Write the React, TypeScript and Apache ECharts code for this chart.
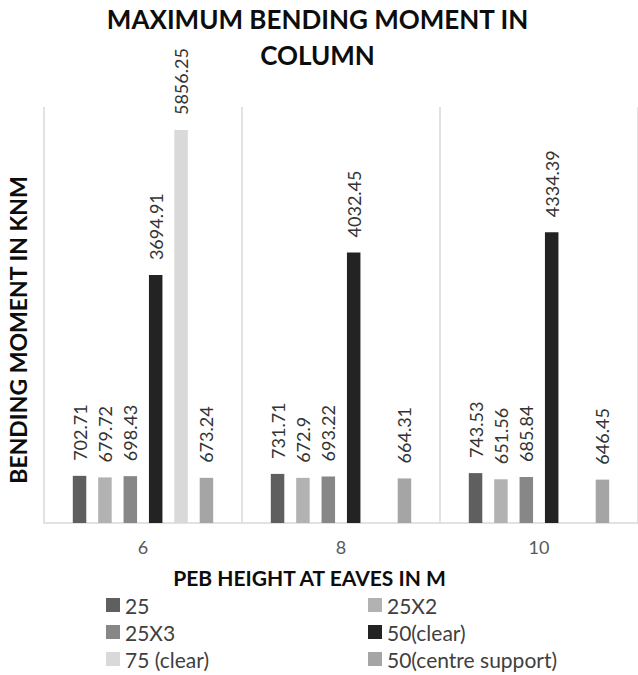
import React, { useEffect, useRef } from "react";
import * as echarts from "echarts";

// Eave heights (m) along the category axis
const categories = ["6", "8", "10"];

// Maximum column bending moment (kNm) per bay configuration
const seriesNames = ["25", "25X2", "25X3", "50(clear)", "75 (clear)", "50(centre support)"];
const s25 = [702.71, 731.71, 743.53];
const s25x2 = [679.72, 672.9, 651.56];
const s25x3 = [698.43, 693.22, 685.84];
const s50clear = [3694.91, 4032.45, 4334.39];
const s75clear = [5856.25, null, null];
const s50centre = [673.24, 664.31, 646.45];

const seriesValues = [s25, s25x2, s25x3, s50clear, s75clear, s50centre];
const seriesColors = ["#5f5f5f", "#b2b2b2", "#878787", "#232323", "#d9d9d9", "#a5a5a5"];

const FONT = "Lato, 'Noto Sans', sans-serif";

export default function App() {
  const ref = useRef<HTMLDivElement>(null);

  useEffect(() => {
    if (!ref.current) return;
    const chart = echarts.init(ref.current, undefined, { renderer: "svg" });

    const series = seriesNames.map((name, i) => ({
      name,
      type: "bar",
      data: seriesValues[i],
      barWidth: 13.5,
      barGap: "88%",
      itemStyle: { color: seriesColors[i] },
      label: {
        show: true,
        position: "top",
        rotate: 90,
        align: "left",
        verticalAlign: "middle",
        distance: 15,
        fontFamily: FONT,
        fontSize: 18,
        color: "#333333",
      },
    }));

    const legendCommon = {
      orient: "vertical",
      top: 594,
      height: 80,
      padding: 0,
      itemWidth: 14,
      itemHeight: 14,
      itemGap: 5,
      icon: "rect",
      selectedMode: false,
      textStyle: { fontFamily: FONT, fontSize: 21, lineHeight: 22, color: "#404040" },
    };

    chart.setOption({
      animation: false,
      backgroundColor: "#ffffff",
      title: {
        text: "MAXIMUM BENDING MOMENT IN\nCOLUMN",
        left: 317.5,
        top: 1,
        padding: 0,
        textAlign: "center",
        textStyle: {
          fontFamily: FONT,
          fontWeight: "bold",
          fontSize: 26,
          lineHeight: 36,
          color: "#0d0d0d",
        },
      },
      legend: [
        { ...legendCommon, left: 106, data: ["25", "25X3", "75 (clear)"] },
        { ...legendCommon, left: 368, data: ["25X2", "50(clear)", "50(centre support)"] },
      ],
      grid: { left: 44, right: -7, top: 107, bottom: 152, containLabel: false },
      xAxis: {
        type: "category",
        data: categories,
        axisLine: { lineStyle: { color: "#d9d9d9", width: 1.5 } },
        axisTick: { show: false },
        axisLabel: { fontFamily: FONT, fontSize: 18, color: "#595959", margin: 15 },
        splitLine: { show: true, lineStyle: { color: "#d9d9d9", width: 1.5 } },
      },
      yAxis: {
        type: "value",
        min: 0,
        max: 6200,
        show: false,
      },
      graphic: [
        {
          type: "text",
          x: 309.5,
          y: 577,
          style: {
            text: "PEB HEIGHT AT EAVES IN M",
            fontFamily: FONT,
            fontWeight: "bold",
            fontSize: 21,
            fill: "#0d0d0d",
            textAlign: "center",
            textVerticalAlign: "middle",
          },
        },
        {
          type: "text",
          x: 18,
          y: 330,
          rotation: Math.PI / 2,
          style: {
            text: "BENDING MOMENT IN KNM",
            fontFamily: FONT,
            fontWeight: "bold",
            fontSize: 23,
            fill: "#0d0d0d",
            textAlign: "center",
            textVerticalAlign: "middle",
          },
        },
      ],
      series,
    });

    return () => chart.dispose();
  }, []);

  return (
    <div
      ref={ref}
      style={{ position: "absolute", left: 0, top: 0, width: 638, height: 675, background: "#fff" }}
    />
  );
}
